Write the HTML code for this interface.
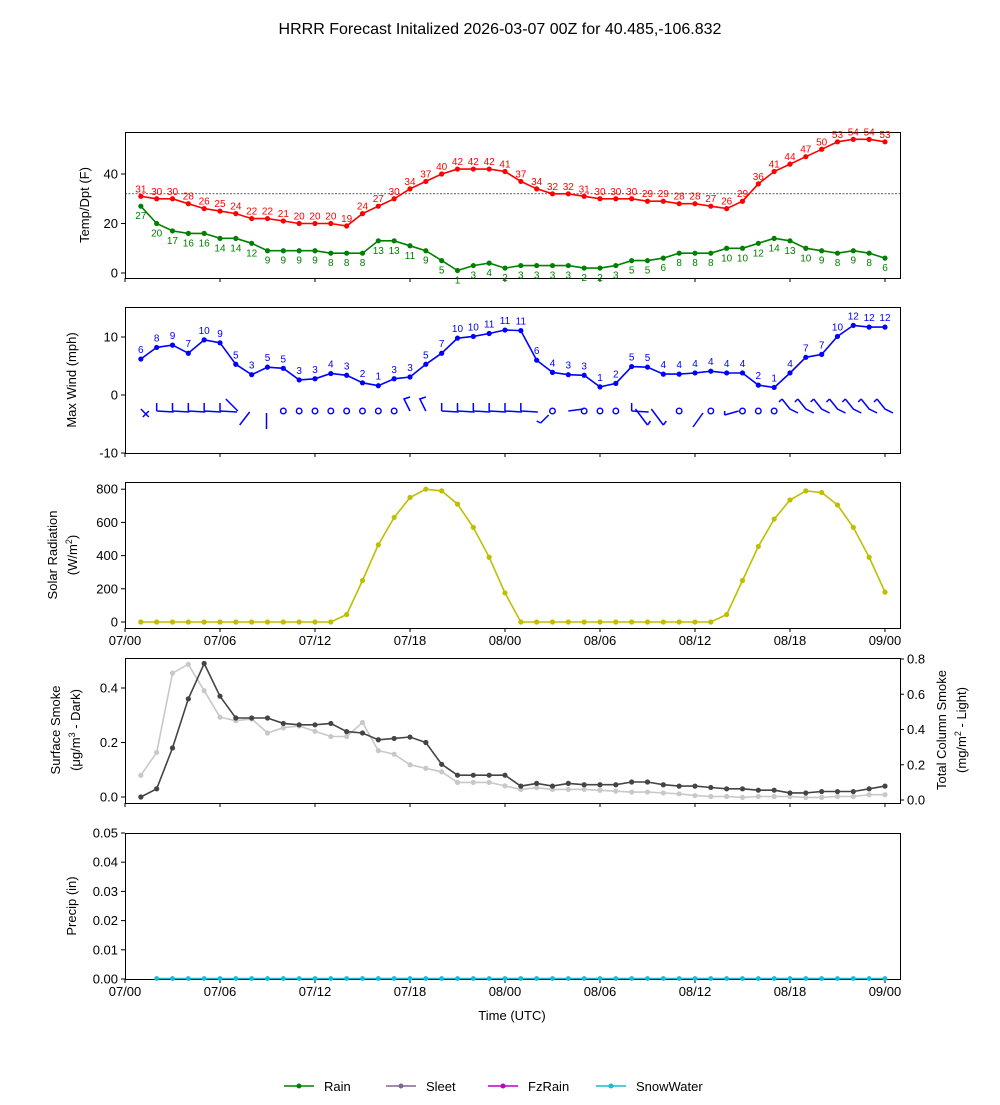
<!DOCTYPE html>
<html><head><meta charset="utf-8"><style>
body{margin:0;background:#fff;}
svg text{font-family:"Liberation Sans","DejaVu Sans",sans-serif;}
</style></head><body>
<svg id="s" width="1000" height="1100" xmlns="http://www.w3.org/2000/svg"></svg>
<script>
const S=document.getElementById('s');let h='';
const X=t=>125+t*15.833;
const T=[31,30,30,28,26,25,24,22,22,21,20,20,20,19,24,27,30,34,37,40,42,42,42,41,37,34,32,32,31,30,30,30,29,29,28,28,27,26,29,36,41,44,47,50,53,54,54,53];
const D=[27,20,17,16,16,14,14,12,9,9,9,9,8,8,8,13,13,11,9,5,1,3,4,2,3,3,3,3,2,2,3,5,5,6,8,8,8,10,10,12,14,13,10,9,8,9,8,6];
const W=[6.2,8.2,8.6,7.2,9.5,9,5.3,3.5,4.8,4.6,2.6,2.8,3.7,3.4,2.1,1.6,2.8,3.1,5.3,7.2,9.8,10.1,10.6,11.2,11.1,6,3.9,3.5,3.4,1.4,2,4.9,4.8,3.6,3.6,3.8,4.1,3.8,3.8,1.7,1.3,3.8,6.5,7,10.1,12,11.7,11.7];
const WL=[6,8,9,7,10,9,5,3,5,5,3,3,4,3,2,1,3,3,5,7,10,10,11,11,11,6,4,3,3,1,2,5,5,4,4,4,4,4,4,2,1,4,7,7,10,12,12,12];
const R=[0,0,0,0,0,0,0,0,0,0,0,0,0,45,250,465,630,750,800,790,710,570,390,175,0,0,0,0,0,0,0,0,0,0,0,0,0,45,250,455,620,735,790,780,705,570,390,180];
const SD=[0,.03,.18,.36,.49,.37,.29,.29,.29,.27,.265,.265,.27,.24,.235,.21,.215,.22,.2,.12,.08,.08,.08,.08,.04,.05,.04,.05,.045,.045,.045,.055,.055,.045,.04,.04,.035,.03,.03,.025,.025,.015,.015,.02,.02,.02,.03,.04];
const SL=[.14,.27,.72,.77,.62,.47,.45,.46,.38,.41,.42,.39,.36,.36,.44,.28,.26,.2,.18,.16,.1,.1,.1,.08,.06,.07,.06,.06,.06,.055,.05,.045,.045,.04,.035,.025,.02,.02,.015,.02,.02,.02,.015,.015,.02,.02,.03,.03];
function frame(y0,y1){h+=`<rect x="125.5" y="${y0+.5}" width="775" height="${y1-y0}" fill="none" stroke="#000" stroke-width="1"/>`;
 for(let i=0;i<9;i++){const x=X(i*6);h+=`<line x1="${x}" y1="${y1}" x2="${x}" y2="${y1+4}" stroke="#000"/>`;}}
function yt(y,lab,right){if(right){h+=`<line x1="900" y1="${y}" x2="904" y2="${y}" stroke="#000"/><text x="907" y="${y+4.5}" font-size="13">${lab}</text>`;}
 else h+=`<line x1="121" y1="${y}" x2="125" y2="${y}" stroke="#000"/><text x="118" y="${y+4.5}" font-size="13" text-anchor="end">${lab}</text>`;}
function line(arr,fx,fy,col,lw){let p=arr.map((v,i)=>`${X(i+1).toFixed(1)},${fy(v).toFixed(1)}`).join(' ');
 h+=`<polyline points="${p}" fill="none" stroke="${col}" stroke-width="${lw||1.6}"/>`;
 arr.forEach((v,i)=>h+=`<circle cx="${X(i+1)}" cy="${fy(v)}" r="2.6" fill="${col}"/>`);}
function ylab(x,y,txt){h+=`<text transform="translate(${x},${y}) rotate(-90)" font-size="13" text-anchor="middle">${txt}</text>`;}
h+=`<text x="500" y="34" font-size="16" text-anchor="middle">HRRR Forecast Initalized 2026-03-07 00Z for 40.485,-106.832</text>`;
let fy=v=>273-v*2.475;
frame(132,278);[0,20,40].forEach(v=>yt(fy(v),v));
h+=`<line x1="125" x2="900" y1="${fy(32)}" y2="${fy(32)}" stroke="#000" stroke-width="0.6" stroke-dasharray="2,1.5"/>`;
line(T,X=>X,fy,'red');line(D,0,fy,'green');
T.forEach((v,i)=>h+=`<text x="${X(i+1)}" y="${fy(v)-4}" font-size="10" fill="red" text-anchor="middle">${v}</text>`);
D.forEach((v,i)=>h+=`<text x="${X(i+1)}" y="${fy(v)+13}" font-size="10" fill="green" text-anchor="middle">${v}</text>`);
ylab(89,205,'Temp/Dpt (F)');
fy=v=>395-v*5.8;
frame(307,453);[10,0,-10].forEach(v=>yt(fy(v),v));
line(W,0,fy,'blue');
WL.forEach((v,i)=>h+=`<text x="${X(i+1)}" y="${fy(W[i])-6}" font-size="10" fill="blue" text-anchor="middle">${v}</text>`);
const calm=[10,11,12,13,14,15,16,17,27,29,30,31,35,37,39,40,41];
for(let t=1;t<=48;t++){const x=X(t),y=411;
 if(calm.includes(t)){h+=`<circle cx="${x}" cy="${y}" r="2.8" fill="none" stroke="blue" stroke-width="1.4"/>`;continue;}
 let d;
 if(t==1)d=`M${x},${y-2}l8,8 M${x+2},${y+6}l6,-6`;
 else if(t==7)d=`M${x-10},${y-12}l12,12`;
 else if(t==8)d=`M${x-12},${y+14}l10,-13`;
 else if(t==9)d=`M${x-1},${y+18}l0,-16`;
 else if(t==26)d=`M${x+4},${y+12}l8,-8 M${x+4},${y+12}l-4,-2`;
 else if(t==28)d=`M${x},${y}l15,-2`;
 else if(t==33||t==34)d=`M${x-12},${y-2}l12,16 M${x},${y+14}l3,-4`;
 else if(t==36)d=`M${x-2},${y+16}l10,-14`;
 else if(t==38)d=`M${x-2},${y+4}l14,-4 M${x-2},${y+4}l0,-4`;
 else if(t>=18&&t<=19)d=`M${x},${y}l-6,-12 l6,-2`;
 else if(t>=42)d=`M${x-8},${y-12}l8,10 l8,4 M${x-8},${y-12}l-3,3`;
 else d=`M${x},${y}l17,1 M${x},${y}l0,-8`;
 h+=`<path d="${d}" stroke="blue" stroke-width="1.5" fill="none"/>`;}
ylab(76,380,'Max Wind (mph)');
fy=v=>622-v*0.166;
frame(482,628);[0,200,400,600,800].forEach(v=>yt(fy(v),v));
line(R,0,fy,'#bfbf00');
h+=`<text transform="translate(57,555) rotate(-90)" font-size="13" text-anchor="middle">Solar Radiation</text>`;
h+=`<text transform="translate(77,555) rotate(-90)" font-size="13" text-anchor="middle">(W/m<tspan font-size="9" dy="-5">2</tspan><tspan dy="5">)</tspan></text>`;
function xl(y){['07/00','07/06','07/12','07/18','08/00','08/06','08/12','08/18','09/00'].forEach((l,i)=>h+=`<text x="${X(i*6)}" y="${y}" font-size="13" text-anchor="middle">${l}</text>`);}
xl(645);
frame(658,803);
fy=v=>797-v*272.5;[0,.2,.4].forEach(v=>yt(fy(v),v.toFixed(1)));
const fr=v=>800-v*176.25;[0,.2,.4,.6,.8].forEach(v=>yt(fr(v),v.toFixed(1),1));
h+=`<line x1="900.5" y1="658" x2="900.5" y2="803" stroke="#000"/>`;
line(SL,0,fr,'#c8c8c8');line(SD,0,fy,'#444');
h+=`<text transform="translate(60,730) rotate(-90)" font-size="13" text-anchor="middle">Surface Smoke</text>`;
h+=`<text transform="translate(80,730) rotate(-90)" font-size="13" text-anchor="middle">(μg/m<tspan font-size="9" dy="-5">3</tspan><tspan dy="5"> - Dark)</tspan></text>`;
h+=`<text transform="translate(946,730) rotate(-90)" font-size="13" text-anchor="middle">Total Column Smoke</text>`;
h+=`<text transform="translate(966,730) rotate(-90)" font-size="13" text-anchor="middle">(mg/m<tspan font-size="9" dy="-5">2</tspan><tspan dy="5"> - Light)</tspan></text>`;
frame(833,979);
fy=v=>979-v*2920;[0,.01,.02,.03,.04,.05].forEach(v=>yt(fy(v),v.toFixed(2)));
let z=[];for(let i=0;i<47;i++)z.push(0);
let p=z.map((v,i)=>`${X(i+2)},978.5`).join(' ');
h+=`<polyline points="${p}" stroke="#17becf" stroke-width="1.6" fill="none"/>`;
z.forEach((v,i)=>h+=`<circle cx="${X(i+2)}" cy="978.5" r="2.4" fill="#17becf"/>`);
xl(996);
h+=`<text x="512" y="1020" font-size="13" text-anchor="middle">Time (UTC)</text>`;
ylab(76,906,'Precip (in)');
[['Rain','green',284],['Sleet','#80678f',386],['FzRain','#c000c0',488],['SnowWater','#17becf',596]].forEach(([n,c,x])=>{
 h+=`<line x1="${x}" x2="${x+30}" y1="1086" y2="1086" stroke="${c}" stroke-width="1.6"/><circle cx="${x+15}" cy="1086" r="2.5" fill="${c}"/><text x="${x+40}" y="1091" font-size="13">${n}</text>`;});
S.innerHTML=h;
</script>
</body></html>
